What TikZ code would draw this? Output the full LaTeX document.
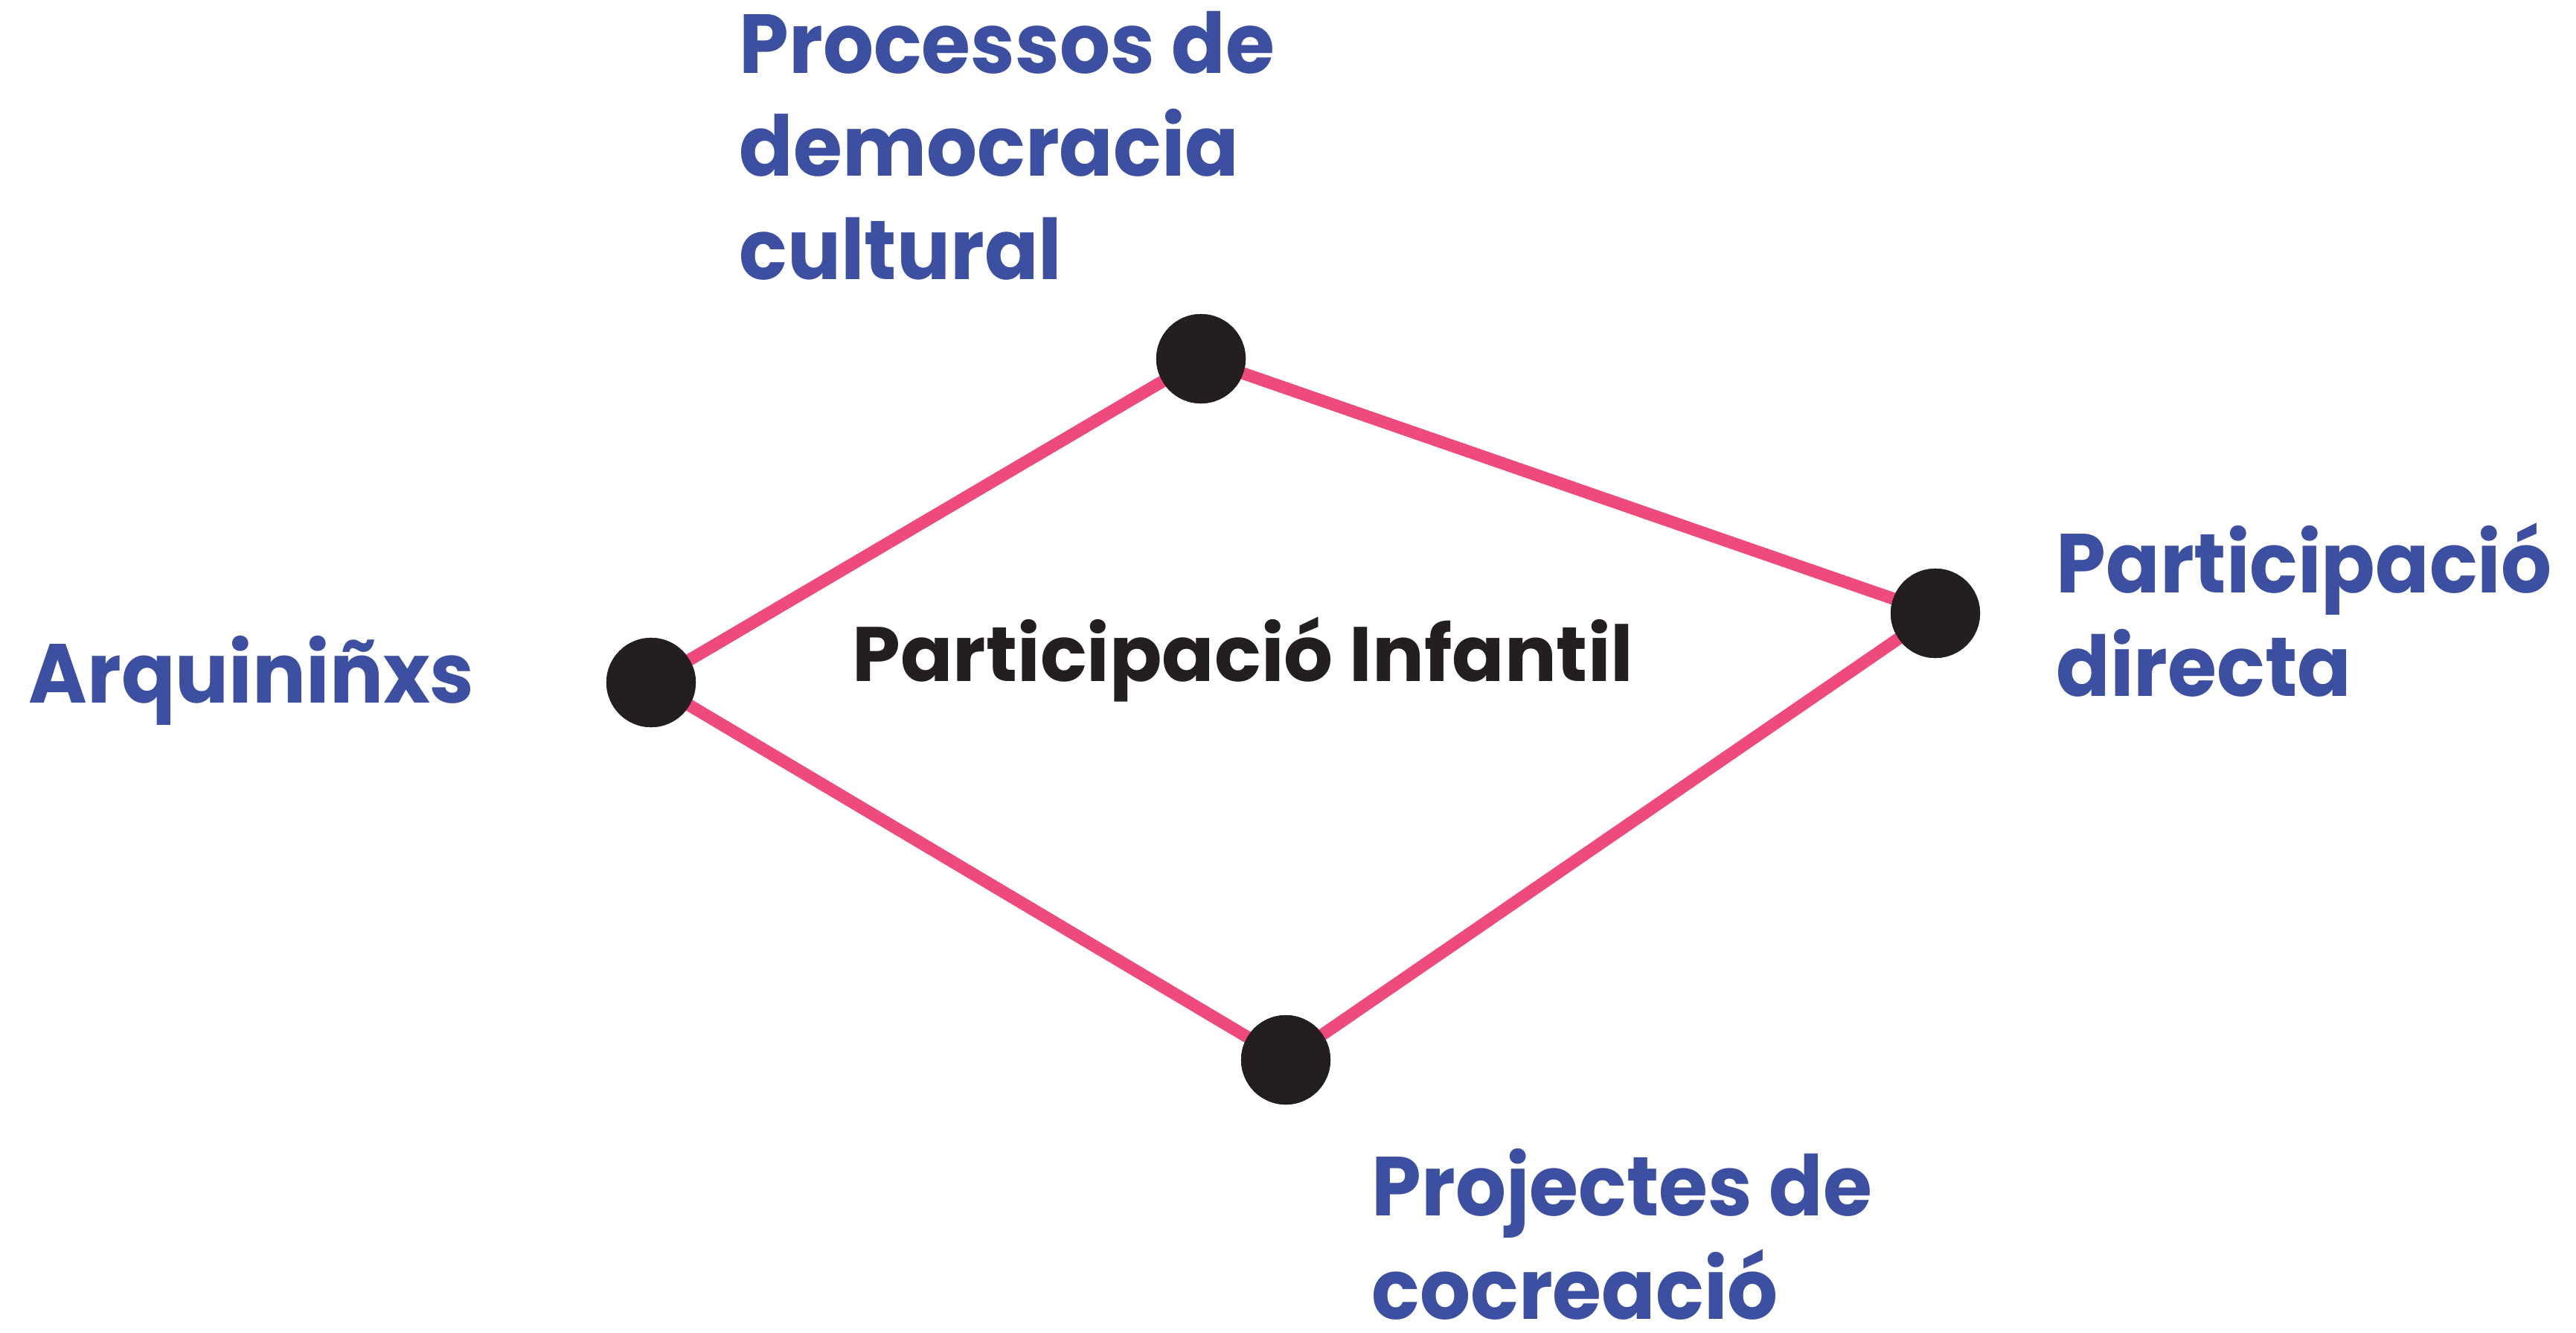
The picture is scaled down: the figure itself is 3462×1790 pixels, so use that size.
\documentclass[tikz,border=0pt]{standalone}
\usepackage{fontspec}
\setmainfont{Poppins}[BoldFont={* Bold}]
\newfontfamily\popb{Poppins Bold}
\newfontfamily\popbn{Poppins Bold}[FakeStretch=0.95]
\definecolor{lblblue}{HTML}{3C4FA0}
\definecolor{edgepink}{HTML}{EE4A7B}
\definecolor{dotblack}{HTML}{231F20}
\begin{document}
\begin{tikzpicture}[x=0.01cm,y=-0.01cm,
  dot/.style={circle,fill=dotblack,inner sep=0pt,minimum size=1.2cm},
  edge/.style={draw=edgepink,line width=0.165cm},
  lbl/.style={text=lblblue,font=\popbn\fontsize{32}{39.3}\selectfont,align=left,inner sep=0pt},
  ctr/.style={text=dotblack,font=\popb\fontsize{29.5}{33}\selectfont,inner sep=0pt}]
\useasboundingbox (0,0) rectangle (3462,1790);
\node[dot] (top) at (1614,482) {};
\node[dot] (right) at (2601,824) {};
\node[dot] (left) at (875,917) {};
\node[dot] (bottom) at (1728,1424) {};
\draw[edge] (left.center) -- (top.center) -- (right.center) -- (bottom.center) -- (left.center);
\node[dot] at (top) {};
\node[dot] at (right) {};
\node[dot] at (left) {};
\node[dot] at (bottom) {};
\node[lbl,anchor=base west] (t1) at (993,375) {Processos de\\democracia\\cultural};
\node[lbl,anchor=base west] (t2) at (38,944) {Arquiniñxs};
\node[lbl,anchor=base west] (t3) at (2763,935) {Participació\\directa};
\node[lbl,anchor=base west] (t4) at (1843,1772) {Projectes de\\cocreació};
\node[ctr,anchor=base west] (c) at (1145,915) {Participació Infantil};
\end{tikzpicture}
\end{document}
